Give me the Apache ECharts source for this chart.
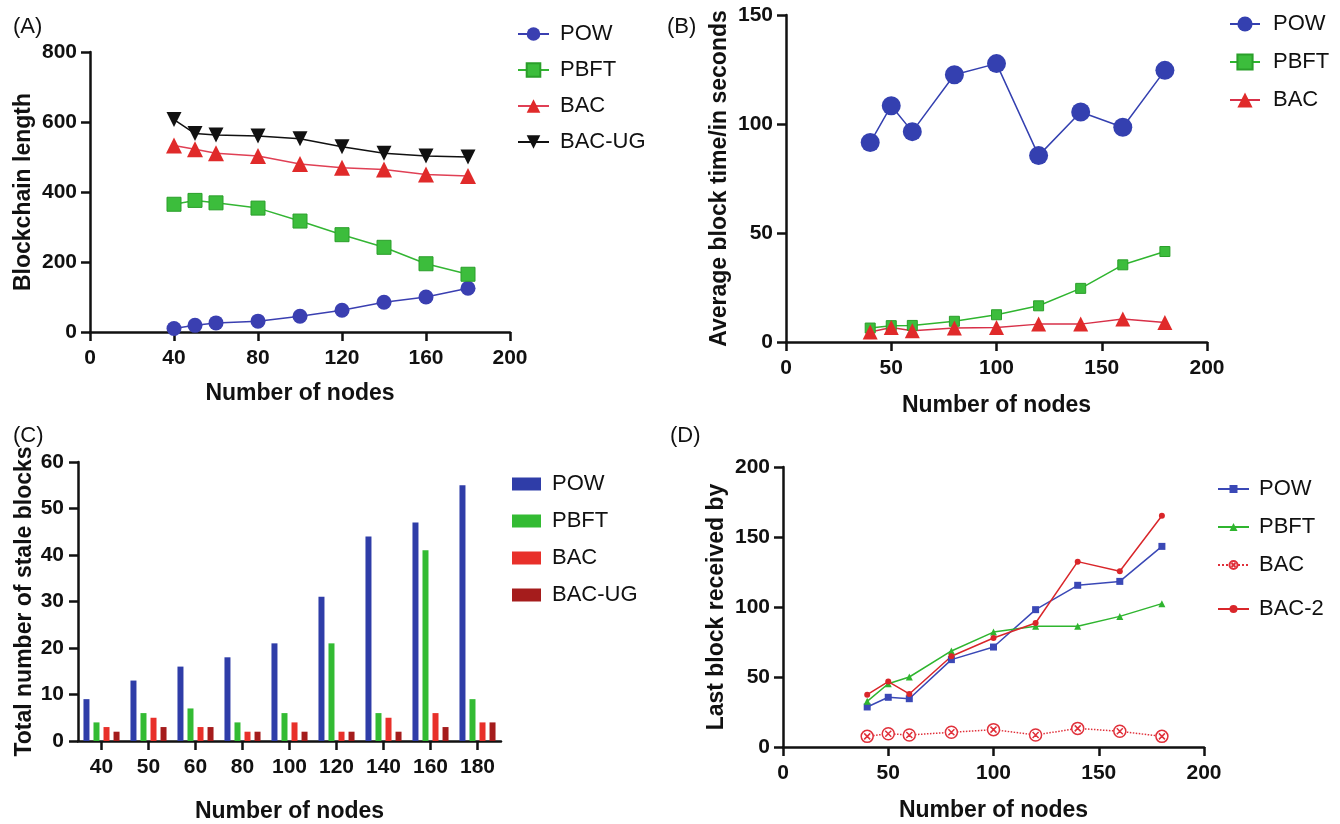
<!DOCTYPE html>
<html>
<head>
<meta charset="utf-8">
<script src="https://cdn.jsdelivr.net/npm/echarts@6/dist/echarts.min.js"></script>
<style>
html,body{margin:0;padding:0;background:#fff;}
.panel{position:absolute;left:0;top:0;width:1340px;height:824px;}
</style>
</head>
<body>
<div id="pA" class="panel"></div>
<div id="pB" class="panel"></div>
<div id="pC" class="panel"></div>
<div id="pD" class="panel"></div>
<script>
// ---- data ----
const nodes = [40, 50, 60, 80, 100, 120, 140, 160, 180];
const nodeLabels = ['40', '50', '60', '80', '100', '120', '140', '160', '180'];

// (A) Blockchain length
const aPOW   = [10, 19, 26, 31, 45, 62, 85, 100, 125];
const aPBFT  = [365, 376, 369, 354, 317, 278, 242, 195, 165];
const aBAC   = [533, 522, 511, 503, 480, 469, 464, 450, 446];
const aBACUG = [607, 567, 563, 560, 552, 529, 511, 503, 500];

// (B) Average block time/in seconds
const bPOW  = [91.5, 108.4, 96.5, 122.6, 127.7, 85.5, 105.5, 98.5, 124.6];
const bPBFT = [6.4, 7.5, 7.6, 9.5, 12.5, 16.6, 24.6, 35.4, 41.5];
const bBAC  = [4.6, 6.7, 5.2, 6.4, 6.7, 8.2, 8.2, 10.5, 9.0];

// (C) Total number of stale blocks
const cPOW   = [9, 13, 16, 18, 21, 31, 44, 47, 55];
const cPBFT  = [4, 6, 7, 4, 6, 21, 6, 41, 9];
const cBAC   = [3, 5, 3, 2, 4, 2, 5, 6, 4];
const cBACUG = [2, 3, 3, 2, 2, 2, 2, 3, 4];

// (D) Last block received by
const dPOW  = [28.6, 35.5, 34.5, 62.4, 71.4, 98.1, 115.5, 118.3, 143.3];
const dPBFT = [32.6, 45.2, 50.0, 68.6, 82.1, 86.2, 86.2, 93.3, 102.4];
const dBAC  = [7.6, 9.5, 8.6, 10.5, 12.4, 8.6, 13.3, 11.2, 7.6];
const dBAC2 = [37.4, 46.7, 37.9, 64.8, 77.9, 88.6, 132.4, 125.5, 165.2];

// ---- style helpers ----
const FONT = 'Liberation Sans, Arial, Helvetica, sans-serif';
const INK = '#111';
function pairs(xs, ys) { return xs.map((x, i) => [x, ys[i]]); }
function axisCommon() {
  return {
    axisLine: { show: true, onZero: false, lineStyle: { color: INK, width: 2.5 } },
    axisTick: { show: true, inside: false, length: 9, lineStyle: { color: INK, width: 2.5 } },
    axisLabel: { color: INK, fontFamily: FONT, fontWeight: 'bold', fontSize: 21 },
    splitLine: { show: false },
    nameTextStyle: { color: INK, fontFamily: FONT, fontWeight: 'bold', fontSize: 23 },
    nameLocation: 'middle'
  };
}
function valueX(max, interval, gap) {
  return Object.assign(axisCommon(), {
    type: 'value', min: 0, max: max, interval: interval,
    name: 'Number of nodes', nameGap: gap,
    axisLabel: Object.assign(axisCommon().axisLabel, { margin: 16 })
  });
}
function valueY(max, interval, name, gap) {
  return Object.assign(axisCommon(), {
    type: 'value', min: 0, max: max, interval: interval,
    name: name, nameGap: gap,
    axisLabel: Object.assign(axisCommon().axisLabel, { margin: 13 })
  });
}
function lineSeries(name, xs, ys, color, symbol, size, extra) {
  return Object.assign({
    name: name, type: 'line', data: pairs(xs, ys),
    symbol: symbol, symbolSize: size, showSymbol: true,
    lineStyle: { color: color, width: 1.5 },
    itemStyle: { color: color },
    animation: false
  }, extra || {});
}
function legendCfg(left, top, names, itemW, itemH, gap, pad) {
  return {
    orient: 'vertical', left: left, top: top, itemWidth: itemW, itemHeight: itemH, itemGap: gap,
    textStyle: { color: INK, fontFamily: FONT, fontSize: 22, padding: [0, 0, 0, pad] },
    data: names, selectedMode: false
  };
}

// ---- (A) ----
const chartA = echarts.init(document.getElementById('pA'), null, { renderer: 'canvas' });
chartA.setOption({
  animation: false,
  title: [
    { text: '(A)', left: 8, top: 11, textStyle: { fontFamily: FONT, fontSize: 22, fontWeight: 'normal', color: INK } },
    { text: '(B)', left: 662, top: 11, textStyle: { fontFamily: FONT, fontSize: 22, fontWeight: 'normal', color: INK } },
    { text: '(C)', left: 8, top: 420, textStyle: { fontFamily: FONT, fontSize: 22, fontWeight: 'normal', color: INK } },
    { text: '(D)', left: 665, top: 420, textStyle: { fontFamily: FONT, fontSize: 22, fontWeight: 'normal', color: INK } }
  ],
  grid: { left: 90, top: 52, width: 420, height: 280 },
  xAxis: valueX(200, 40, 50),
  yAxis: valueY(800, 200, 'Blockchain length', 55),
  legend: legendCfg(512, 18, ['POW', 'PBFT', 'BAC', 'BAC-UG'], 31, 17, 14, 6),
  series: [
    lineSeries('POW', nodes, aPOW, '#3a3fb1', 'circle', 15),
    lineSeries('PBFT', nodes, aPBFT, '#33b533', 'rect', 14, { itemStyle: { color: '#3cbd3c', borderColor: '#2a9f2a', borderWidth: 1 } }),
    lineSeries('BAC', nodes, aBAC, '#e02a2a', 'triangle', 16, { lineStyle: { color: '#e04055', width: 1.5 } }),
    lineSeries('BAC-UG', nodes, aBACUG, '#111111', 'triangle', 15, { symbolRotate: 180 })
  ]
});

// ---- (B) ----
const chartB = echarts.init(document.getElementById('pB'), null, { renderer: 'canvas' });
chartB.setOption({
  animation: false,
  grid: { left: 786, top: 15, width: 421, height: 327 },
  xAxis: valueX(200, 50, 52),
  yAxis: valueY(150, 50, 'Average block time/in seconds', 55),
  legend: legendCfg(1224, 8, ['POW', 'PBFT', 'BAC'], 30, 19, 16, 8),
  series: [
    lineSeries('POW', nodes, bPOW, '#3440b0', 'circle', 19),
    lineSeries('PBFT', nodes, bPBFT, '#2fb52f', 'rect', 10, { itemStyle: { color: '#3cbd3c', borderColor: '#2a9f2a', borderWidth: 1 } }),
    lineSeries('BAC', nodes, bBAC, '#e02a2a', 'triangle', 15, { lineStyle: { color: '#d83048', width: 1.5 } })
  ]
});

// ---- (C) ----
const chartC = echarts.init(document.getElementById('pC'), null, { renderer: 'canvas' });
function barSeries(name, vals, color) {
  return { name: name, type: 'bar', data: vals, barWidth: 6, barGap: '67%', itemStyle: { color: color }, animation: false };
}
chartC.setOption({
  animation: false,
  grid: { left: 78, top: 462, width: 423, height: 280 },
  xAxis: Object.assign(axisCommon(), {
    type: 'category', data: nodeLabels, name: 'Number of nodes', nameGap: 59,
    axisTick: { show: true, alignWithLabel: true, interval: 0, length: 9, lineStyle: { color: INK, width: 2.5 } },
    axisLabel: Object.assign(axisCommon().axisLabel, { margin: 16, interval: 0 })
  }),
  yAxis: Object.assign(valueY(60, 10, 'Total number of stale blocks', 42), {
    axisLabel: Object.assign(axisCommon().axisLabel, { margin: 14 })
  }),
  legend: Object.assign(legendCfg(507, 468, ['POW', 'PBFT', 'BAC', 'BAC-UG'], 29, 13, 15, 6), { icon: 'rect' }),
  series: [
    barSeries('POW', cPOW, '#2f3da8'),
    barSeries('PBFT', cPBFT, '#33bb33'),
    barSeries('BAC', cBAC, '#e8302a'),
    barSeries('BAC-UG', cBACUG, '#a51c1c')
  ]
});

// ---- (D) ----
const chartD = echarts.init(document.getElementById('pD'), null, { renderer: 'canvas' });
const crossCircle = 'path://M20,10A10,10,0,1,1,0,10A10,10,0,1,1,20,10Z M5,5L15,15M15,5L5,15';
chartD.setOption({
  animation: false,
  grid: { left: 783, top: 467, width: 421, height: 280 },
  xAxis: valueX(200, 50, 52),
  yAxis: valueY(200, 50, 'Last block received by', 55),
  legend: [
    legendCfg(1212, 473, ['POW', 'PBFT', 'BAC'], 31, 10, 16, 5),
    legendCfg(1212, 593, ['BAC-2'], 31, 10, 16, 5)
  ],
  series: [
    lineSeries('POW', nodes, dPOW, '#3a48b6', 'rect', 7),
    lineSeries('PBFT', nodes, dPBFT, '#2fb52f', 'triangle', 7),
    lineSeries('BAC', nodes, dBAC, '#e0303a', crossCircle, 12, {
      lineStyle: { color: '#e0303a', width: 1.5, type: 'dotted' },
      itemStyle: { color: '#ffffff', borderColor: '#e0303a', borderWidth: 1.5 }
    }),
    lineSeries('BAC-2', nodes, dBAC2, '#d9262a', 'circle', 6)
  ]
});
</script>
</body>
</html>
